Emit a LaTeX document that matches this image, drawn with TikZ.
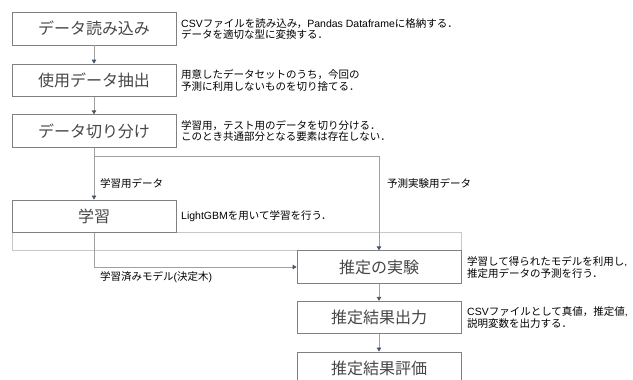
\documentclass[tikz,border=0pt]{standalone}
\usepackage{fontspec}
\setmainfont{Noto Sans CJK JP}
\newfontfamily\latf{Liberation Sans}
\usetikzlibrary{arrows.meta}
\definecolor{boxline}{HTML}{808080}
\definecolor{connc}{HTML}{A0A0A0}
\definecolor{tipc}{HTML}{44546A}
\definecolor{framec}{HTML}{C8C8C8}
\begin{document}
\begin{tikzpicture}[x=1pt,y=-1pt,
  stepbox/.style={draw=boxline, line width=0.8pt, minimum width=164pt, minimum height=32.5pt, inner sep=0pt, font=\fontsize{16}{18}\selectfont, text=black!72},
  note/.style={anchor=west, align=left, inner sep=0pt, font=\fontsize{10.5}{11.7}\selectfont},
  lbl/.style={anchor=west, inner sep=0pt, font=\fontsize{10.5}{12}\selectfont},
  connline/.style={draw=connc, line width=0.8pt},
  conn/.style={connline, -{Triangle[width=4.5pt,length=4pt,color=tipc,fill=tipc]}}]
\useasboundingbox (0,0) rectangle (633,380);
% light frame
\draw[draw=framec, line width=0.8pt] (12,232.3) rectangle (461,250.7);
% boxes
\node[stepbox, fill=white] (A) at (94,28.7) {データ読み込み};
\node[stepbox, fill=white] (B) at (94,80.3) {使用データ抽出};
\node[stepbox, fill=white] (C) at (94,131) {データ切り分け};
\node[stepbox, fill=white] (D) at (94,216.2) {学習};
\node[stepbox, fill=white] (E) at (379,267) {推定の実験};
\node[stepbox, fill=white] (F) at (379,317.5) {推定結果出力};
\node[stepbox, fill=white] (G) at (379,368.2) {推定結果評価};
% notes
\node[note] (nA) at (181,29) {{\latf CSV}ファイルを読み込み，{\latf Pandas Dataframe}に格納する．\\データを適切な型に変換する．};
\node[note] (nB) at (181,80.5) {用意したデータセットのうち，今回の\\予測に利用しないものを切り捨てる．};
\node[note] (nC) at (181,131) {学習用，テスト用のデータを切り分ける．\\このとき共通部分となる要素は存在しない．};
\node[note] (nD) at (181,216) {{\latf LightGBM}を用いて学習を行う．};
\node[note] (nE) at (467,267.5) {学習して得られたモデルを利用し{\latf ,}\\推定用データの予測を行う．};
\node[note] (nF) at (467,317.5) {{\latf CSV}ファイルとして真値，推定値{\latf ,}\\説明変数を出力する．};
% connectors
\coordinate (split) at (94,156);
\coordinate (turn) at (379,156);
\draw[conn] (A.south) -- (B.north);
\draw[conn] (B.south) -- (C.north);
\draw[conn] (C.south) -- (D.north);
\draw[conn] (split) -- (turn) -- (E.north);
\draw[conn] (D.south) |- (E.west);
\draw[conn] (E.south) -- (F.north);
\draw[conn] (F.south) -- (G.north);
% labels
\node[lbl] (l1) at (100,183.5) {学習用データ};
\node[lbl] (l2) at (387,183.5) {予測実験用データ};
\node[lbl] (l3) at (100,277) {学習済みモデル{\latf (}決定木{\latf )}};
\end{tikzpicture}
\end{document}
